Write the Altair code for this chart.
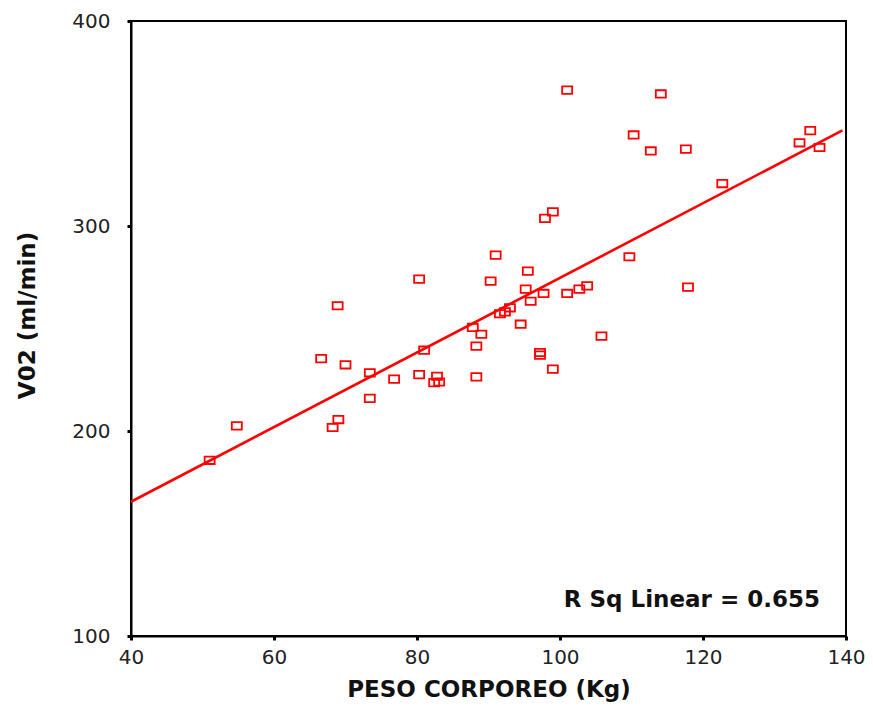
import altair as alt
import pandas as pd

# Body weight (kg) and VO2 (ml/min)
peso = [51.0, 54.8, 66.6, 68.9, 69.0, 68.2, 70.0, 73.4, 73.4, 76.8,
        80.3, 80.3, 81.0, 82.8, 82.4, 83.1, 88.3, 87.8, 88.3, 89.0,
        90.3, 91.0, 91.6, 92.3, 93.0, 94.5, 95.5, 95.2, 95.9, 97.7,
        97.2, 97.2, 99.0, 97.9, 99.0, 101.0, 102.7, 103.8, 105.8, 109.7,
        101.0, 110.3, 112.7, 114.1, 117.6, 117.9, 122.7, 133.5, 135.0, 136.3]
vo2 = [185.7, 202.5, 235.3, 261.1, 205.6, 201.7, 232.3, 228.4, 215.9, 225.3,
       274.1, 227.5, 239.4, 226.7, 223.6, 223.9, 226.4, 250.5, 241.4, 247.2,
       273.1, 285.8, 257.2, 258.1, 260.1, 252.1, 278.0, 269.2, 263.3, 267.1,
       238.3, 237.0, 230.2, 303.7, 306.9, 267.1, 269.2, 270.8, 246.3, 285.0,
       366.3, 344.4, 336.6, 364.4, 337.5, 270.2, 320.7, 340.6, 346.5, 338.3]

# Linear fit line as drawn in the reference
fit_peso = [40.0, 139.5]
fit_vo2 = [165.5, 346.6]

x_ticks = [40, 60, 80, 100, 120, 140]
y_ticks = [100, 200, 300, 400]
r2_label = "R Sq Linear = 0.655"

df = pd.DataFrame({"peso": peso, "vo2": vo2})
fit_df = pd.DataFrame({"peso": fit_peso, "vo2": fit_vo2})

RED = "#ff0000"
FONT = "DejaVu Sans"

xscale = alt.Scale(domain=[40, 140], nice=False, zero=False)
yscale = alt.Scale(domain=[100, 400], nice=False, zero=False)

xaxis = alt.Axis(values=x_ticks, title="PESO CORPOREO (Kg)", grid=False,
                 domainColor="black", domainWidth=2, tickColor="black",
                 tickWidth=3, tickSize=4, labelFont=FONT, labelFontSize=20,
                 labelColor="#222", labelPadding=7, labelFlush=False,
                 titleFont=FONT, titleFontSize=23, titleFontWeight="bold",
                 titleColor="#111", titlePadding=11)
yaxis = alt.Axis(values=y_ticks, title="V02 (ml/min)", grid=False,
                 domainColor="black", domainWidth=2, tickColor="black",
                 tickWidth=3, tickSize=4, labelFont=FONT, labelFontSize=20,
                 labelColor="#222", labelPadding=17, labelFlush=False,
                 titleFont=FONT, titleFontSize=23, titleFontWeight="bold",
                 titleColor="#111", titlePadding=32, titleY=294)

points = alt.Chart(df).mark_point(
    shape="M-1.35,-1H1.35V1H-1.35Z", filled=False, color=RED,
    strokeWidth=1.8, size=55, opacity=1
).encode(
    x=alt.X("peso:Q", scale=xscale, axis=xaxis),
    y=alt.Y("vo2:Q", scale=yscale, axis=yaxis),
)

line = alt.Chart(fit_df).mark_line(
    color=RED, strokeWidth=2.6
).encode(
    x=alt.X("peso:Q", scale=xscale),
    y=alt.Y("vo2:Q", scale=yscale),
)

label = alt.Chart(pd.DataFrame({"t": [r2_label]})).mark_text(
    align="right", baseline="alphabetic", font=FONT, fontSize=23,
    fontWeight="bold", color="#111"
).encode(
    x=alt.value(689), y=alt.value(586), text="t:N"
)

chart = alt.layer(line, points, label).properties(
    width=715, height=615,
    autosize=alt.AutoSizeParams(type="none"),
    padding={"left": 123, "top": 13, "right": 19, "bottom": 67},
).configure_view(stroke="black", strokeWidth=2)

chart.save("out.html", embed_options={"renderer": "svg", "actions": False})
